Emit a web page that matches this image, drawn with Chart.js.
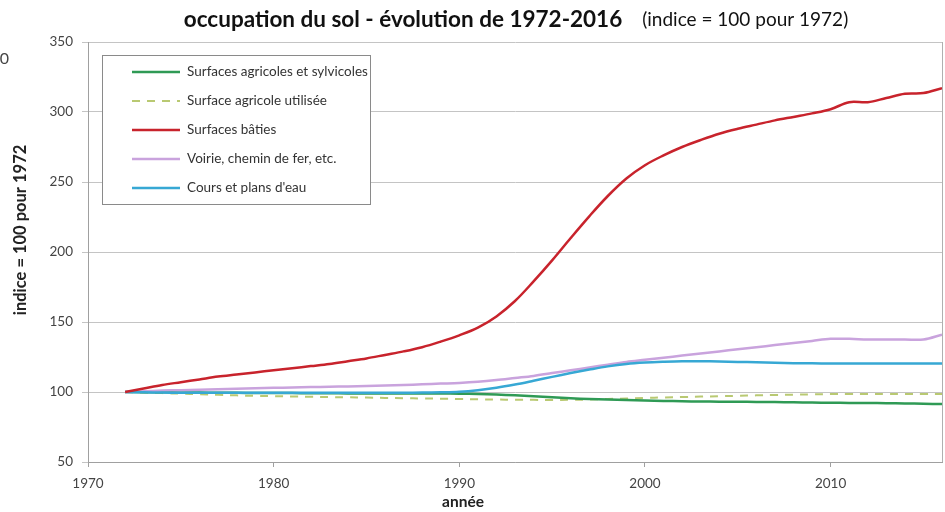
<!DOCTYPE html>
<html><head><meta charset="utf-8">
<script src="https://cdn.jsdelivr.net/npm/chart.js@4/dist/chart.umd.min.js"></script>
<style>html,body{margin:0;padding:0;background:#fff;}#wrap{width:945px;height:512px;}</style>
</head><body><div id="wrap"><canvas id="c" width="945" height="512"></canvas></div>
<script>
const years = [1972,1973,1974,1975,1976,1977,1978,1979,1980,1981,1982,1983,1984,1985,1986,1987,1988,1989,1990,1991,1992,1993,1994,1995,1996,1997,1998,1999,2000,2001,2002,2003,2004,2005,2006,2007,2008,2009,2010,2011,2012,2013,2014,2015,2016];
const agriSylvi = [100,99.9,99.8,99.7,99.6,99.5,99.4,99.3,99.2,99.2,99.1,99.1,99,99,99,99,98.9,98.9,98.8,98.6,98.2,97.6,96.9,96.2,95.5,95,94.6,94.2,93.9,93.6,93.4,93.2,93.1,93,92.9,92.8,92.6,92.5,92.3,92.2,92.1,92,91.8,91.6,91.4];
const sau = [100,99.6,99.2,98.8,98.4,98,97.6,97.2,97,96.8,96.6,96.4,96.2,96,95.8,95.6,95.4,95.2,95,94.8,94.6,94.5,94.4,94.3,94.4,94.6,95,95.4,95.8,96.1,96.4,96.7,97,97.3,97.6,97.9,98.1,98.3,98.5,98.5,98.5,98.5,98.5,98.5,98.5];
const baties = [100,102.5,105,107,109,111,112.5,114,115.5,117,118.5,120,122,124,126.5,129,132,136,140.5,146,154,165,179,194,210,225.5,240,252.5,262,269,275,280,284.5,288,291,294,296.5,299,302,307,307,310,313,313.5,317];
const voirie = [100,100.5,101,101.3,101.6,102,102.3,102.6,103,103.2,103.5,103.8,104,104.3,104.6,105,105.5,106,106.5,107.3,108.5,110,111.5,113.5,115.5,117.5,119.5,121.5,123,124.5,126,127.5,129,130.5,132,133.5,135,136.5,138,138,137.5,137.5,137.5,137.5,141];
const eau = [100,99.8,99.6,99.5,99.5,99.5,99.5,99.5,99.5,99.5,99.5,99.5,99.5,99.5,99.5,99.5,99.6,99.8,100.2,101.3,103,105.3,108,110.8,113.5,116,118.3,120,121,121.6,122,122,121.8,121.5,121.2,120.9,120.6,120.5,120.4,120.4,120.4,120.4,120.4,120.4,120.4];
const seriesNames = ["Surfaces agricoles et sylvicoles","Surface agricole utilisée","Surfaces bâties","Voirie, chemin de fer, etc.","Cours et plans d'eau"];
const xTickLabels = [1970,1980,1990,2000,2010];
const yTickLabels = [50,100,150,200,250,300,350];
const titleMain = "occupation du sol - évolution de 1972-2016";
const titleSub = "(indice = 100 pour 1972)";
const yTitle = "indice = 100 pour 1972";
const xTitle = "année";

const colors = ['#2f9a55','#b9c972','#c8232c','#c9a3dd','#37a8d4'];
const seriesData = [agriSylvi, sau, baties, voirie, eau];
const FONT = 'Lato, "Open Sans", sans-serif';

const datasets = seriesData.map((arr,i)=>({
  label: seriesNames[i],
  data: years.map((y,k)=>({x:y, y:arr[k]})),
  borderColor: colors[i],
  backgroundColor: colors[i],
  borderWidth: i===1 ? 2 : 2.5,
  borderDash: i===1 ? [8,7] : [],
  pointRadius: 0,
  tension: 0.35,
  fill: false,
  order: [3,4,0,2,1][i]
}));

const decor = {
  id:'decor',
  afterDraw(chart){
    const ctx = chart.ctx, a = chart.chartArea;
    ctx.save();
    ctx.strokeStyle = '#b0b0b0'; ctx.lineWidth = 1;
    ctx.beginPath(); ctx.moveTo(a.right+0.5, a.top); ctx.lineTo(a.right+0.5, a.bottom); ctx.stroke();
    ctx.fillStyle = '#111'; ctx.textBaseline = 'middle'; ctx.textAlign='left';
    const f1 = 'bold 22.5px ' + FONT, f2 = '19px ' + FONT;
    ctx.font = f1; const w1 = ctx.measureText(titleMain).width;
    ctx.font = f2; const w2 = ctx.measureText(titleSub).width;
    const gap = 20;
    const startX = 516 - (w1+gap+w2)/2;
    ctx.font = f1; ctx.fillText(titleMain, startX, 20);
    ctx.font = f2; ctx.fillText(titleSub, startX + w1 + gap, 20);
    ctx.fillStyle = '#222';
    ctx.font = 'bold 15.5px ' + FONT; ctx.textAlign='center';
    ctx.fillText(xTitle, 463, 502);
    ctx.font = 'bold 16.5px ' + FONT;
    ctx.save(); ctx.translate(21, 230); ctx.rotate(-Math.PI/2);
    ctx.fillText(yTitle, 0, 0); ctx.restore();
    ctx.font = '16px ' + FONT; ctx.textAlign='right'; ctx.fillStyle='#444';
    ctx.fillText('0', 9, 59);
    const lx=102, ly=55, lw=268, lh=149;
    ctx.fillStyle='#fff'; ctx.fillRect(lx,ly,lw,lh);
    ctx.strokeStyle='#8a8a8a'; ctx.lineWidth=1;
    ctx.strokeRect(lx+0.5,ly+0.5,lw,lh);
    ctx.font='13.5px ' + FONT; ctx.textAlign='left'; ctx.textBaseline='middle';
    chart.data.datasets.forEach((ds,i)=>{
      const yy = 72 + i*29;
      ctx.strokeStyle = ds.borderColor; ctx.lineWidth = ds.borderWidth;
      ctx.setLineDash(ds.borderDash||[]);
      ctx.beginPath(); ctx.moveTo(132,yy); ctx.lineTo(180,yy); ctx.stroke();
      ctx.setLineDash([]);
      ctx.fillStyle='#333'; ctx.fillText(ds.label, 187, yy);
    });
    ctx.restore();
  }
};

new Chart(document.getElementById('c'), {
  type:'line',
  data:{datasets},
  options:{
    responsive:false, animation:false,
    layout:{padding:{top:42,right:3,left:0,bottom:0}},
    plugins:{legend:{display:false},tooltip:{enabled:false},title:{display:false}},
    scales:{
      x:{type:'linear', min:1970, max:2016,
        afterBuildTicks(s){ s.ticks = xTickLabels.map(v=>({value:v})); },
        afterFit(s){ s.height = 50; },
        grid:{drawOnChartArea:false, color:'#a0a0a0', tickLength:5},
        border:{color:'#a0a0a0'},
        ticks:{color:'#444', font:{family:FONT,size:13.5}, padding:9, callback:v=>String(v), maxRotation:0}
      },
      y:{min:50, max:350,
        afterBuildTicks(s){ s.ticks = yTickLabels.map(v=>({value:v})); },
        afterFit(s){ s.width = 88; },
        grid:{color:'#c4c4c4', tickLength:6},
        border:{color:'#a0a0a0'},
        ticks:{color:'#444', font:{family:FONT,size:13.5}, padding:9}
      }
    }
  },
  plugins:[decor]
});
</script></body></html>
